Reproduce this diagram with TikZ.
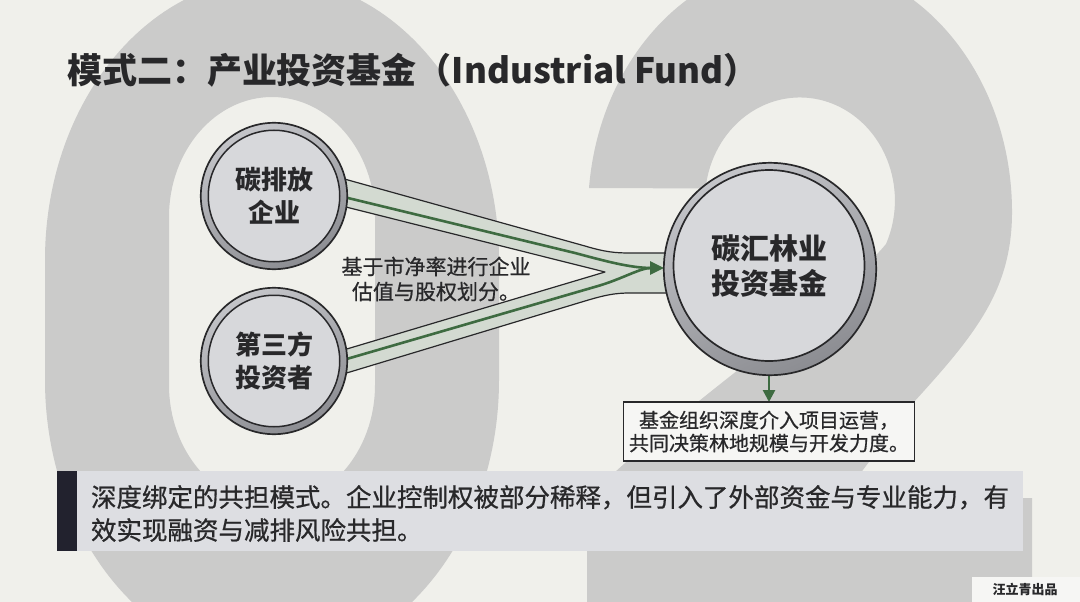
\documentclass[tikz,border=0pt]{standalone}
\usepackage{fontspec}
\setmainfont{Noto Sans CJK SC}
\newfontfamily\medfont{Noto Sans CJK SC}[FakeBold=0.7]
\usetikzlibrary{arrows.meta}
\pgfdeclarelayer{bglayer}
\pgfdeclarelayer{midlayer}
\pgfsetlayers{bglayer,midlayer,main}
\definecolor{bgc}{RGB}{240,240,235}
\definecolor{digit}{RGB}{203,203,202}
\definecolor{ink}{RGB}{40,40,42}
\definecolor{ringlight}{RGB}{196,197,201}
\definecolor{ringdark}{RGB}{140,141,146}
\definecolor{disc}{RGB}{215,216,219}
\definecolor{chan}{RGB}{211,218,209}
\definecolor{gline}{RGB}{62,107,65}
\definecolor{bannerc}{RGB}{221,222,226}
\definecolor{barc}{RGB}{34,34,46}
\definecolor{wmc}{RGB}{246,246,244}
\begin{document}
\begin{tikzpicture}[x=1pt,y=-1pt,
  ringdisk/.style={draw=ink, line width=1.7pt, top color=ringlight, bottom color=ringdark, shading angle=25},
  bubble/.style={circle, draw=ink, line width=1.5pt, fill=disc, inner sep=0pt, outer sep=0pt,
    align=center, text=ink, minimum size=131.5pt, font=\bfseries\fontsize{26}{33}\selectfont},
  bigbubble/.style={bubble, line width=1.7pt, minimum size=191pt,
    font=\bfseries\fontsize{29}{35}\selectfont},
  greenline/.style={draw=gline, line width=2.6pt, line cap=round, line join=round},
  greenarrow/.style={greenline, line cap=butt, -{Triangle[length=14pt,width=13pt]}},
  notebox/.style={draw=ink, line width=1.4pt, fill=wmc, minimum width=291pt, minimum height=59pt,
    inner sep=0pt, outer sep=0pt, align=center, text=ink, font=\medfont\fontsize{20}{23}\selectfont},
  plain/.style={inner sep=0pt, outer sep=0pt, text=ink}
]
\useasboundingbox (0,0) rectangle (1080,602);

% ---------- background with the big "02" ----------
\begin{pgfonlayer}{bglayer}
\fill[bgc] (0,0) rectangle (1080,602);
\begin{scope}
\clip (0,0) rectangle (1080,602);
\fill[digit, even odd rule]
  (45,260) arc[start angle=180, end angle=0, x radius=227pt, y radius=282pt]
  -- (499,380) arc[start angle=0, end angle=-180, x radius=227pt, y radius=282pt] -- cycle
  (169,217) arc[start angle=180, end angle=0, x radius=103pt, y radius=120pt]
  -- (375,385) arc[start angle=0, end angle=-180, x radius=103pt, y radius=120pt] -- cycle;
\fill[digit]
  (589,188) arc[start angle=174.5, end angle=0, x radius=212pt, y radius=251pt]
  .. controls (1012,290) and (975,335) .. (913,403)
  -- (842,498) -- (1032,498) -- (1032,640) -- (587,640) -- (587,498)
  .. controls (700,390) and (840,300) .. (886,244)
  arc[start angle=-25, end angle=173.3, x radius=95pt, y radius=103pt]
  -- cycle;
\end{scope}
\end{pgfonlayer}

% ---------- title ----------
\node[plain, anchor=west, font=\bfseries\fontsize{35}{40}\selectfont] (title) at (67,70)
  {模式二：产业投资基金（Industrial Fund）};

% ---------- rings behind the discs ----------
\path[ringdisk] (274,196) circle[radius=73.2pt];
\path[ringdisk] (274,361) circle[radius=73.2pt];
\path[ringdisk] (770,269) circle[radius=106.2pt];

% ---------- nodes ----------
\node[bubble] (c1) at (274,196) {碳排放\\企业};
\node[bubble] (c2) at (274,361) {第三方\\投资者};
\node[bigbubble] (fund) at (769,265.5) {碳汇林业\\投资基金};
\node[plain, align=center, font=\medfont\fontsize{21}{25}\selectfont] (lbl) at (436,279)
  {基于市净率进行企业\\估值与股权划分。};
\node[notebox] (box) at (769,431.5) {基金组织深度介入项目运营，\\共同决策林地规模与开发力度。};

% ---------- banner ----------
\fill[bannerc] (77,471) rectangle (1023,551);
\fill[barc] (57,471) rectangle (77,551);
\node[plain, anchor=west, align=left, font=\medfont\fontsize{25.5}{33}\selectfont] (note) at (91,513.5)
  {深度绑定的共担模式。企业控制权被部分稀释，但引入了外部资金与专业能力，有\\效实现融资与减排风险共担。};

% ---------- watermark ----------
\fill[wmc] (972,577) rectangle (1080,602);
\node[plain, font=\bfseries\fontsize{13}{13}\selectfont] (wm) at (1025,589) {汪立青出品};

% ---------- connectors ----------
\coordinate (m1) at (575,253);
\coordinate (m2) at (598,286);
\coordinate (join) at (652,268);
\coordinate (tip) at (664,268);
\begin{pgfonlayer}{midlayer}
\filldraw[fill=chan, draw=ink, line width=1.2pt, line join=round]
  (330,175) -- (585,246) .. controls (605,252) and (615,253) .. (630,253) -- (690,253)
  -- (690,293) -- (630,293) .. controls (615,293) and (605,295) .. (585,301)
  -- (330,378) -- (330,354) -- (605,272) -- (330,203) -- cycle;
\draw[greenline] (c1.east) -- (m1) .. controls (605,261) and (630,268) .. (join);
\draw[greenarrow] (c2.east) -- (m2) .. controls (622,279) and (640,268) .. (tip);
\draw[greenline, line cap=butt, -{Triangle[length=12pt,width=12pt]}] (fund.south) -- (box.north);
\end{pgfonlayer}
\end{tikzpicture}
\end{document}
